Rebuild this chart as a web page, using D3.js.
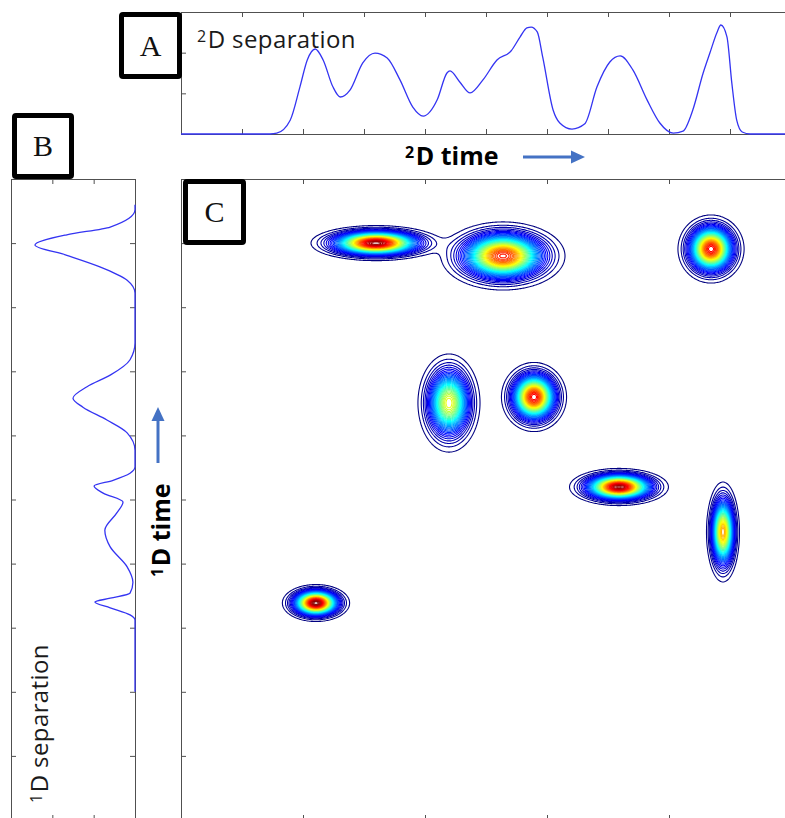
<!DOCTYPE html>
<html>
<head>
<meta charset="utf-8">
<script src="https://cdn.jsdelivr.net/npm/d3@7"></script>
<style>
  body { margin: 0; background: #fff; }
  svg { display: block; }
</style>
</head>
<body>
<svg id="fig"></svg>
<script>
// panel A: 2D separation trace, [2D time, signal]
var traceA = [
  [0, 0], [1.46, 0], [1.57, 0.02], [1.79, 0.34], [1.95, 1.16], [2.07, 1.82], [2.20, 2.09],
  [2.33, 1.82], [2.49, 1.16], [2.61, 0.91], [2.77, 1.08], [2.98, 1.75], [3.18, 1.99],
  [3.38, 1.87], [3.59, 1.33], [3.80, 0.66], [3.97, 0.44], [4.20, 0.84], [4.36, 1.50],
  [4.41, 1.55], [4.57, 1.28], [4.74, 1.01], [4.95, 1.33], [5.18, 1.82], [5.41, 2.04],
  [5.56, 2.39], [5.67, 2.61], [5.74, 2.63], [5.84, 2.51], [5.93, 1.89], [6.10, 0.59],
  [6.21, 0.27], [6.41, 0.12], [6.62, 0.25], [6.82, 1.16], [7.03, 1.77], [7.20, 1.92],
  [7.41, 1.57], [7.64, 0.84], [7.85, 0.27], [8.07, 0.02], [8.23, 0.07], [8.39, 0.59],
  [8.56, 1.50], [8.67, 1.99], [8.79, 2.51], [8.85, 2.68], [8.95, 2.39], [9.03, 1.25],
  [9.11, 0.34], [9.20, 0.05], [9.33, 0], [10, 0]
];

// panel B: 1D separation trace, [1D time, signal]
var traceB = [
  [9.60, 0], [9.52, 0], [9.25, 0.60], [9.13, 1.65], [8.97, 2.42], [8.81, 1.65], [8.63, 0.85],
  [8.42, 0.19], [8.22, 0], [7.44, 0], [7.18, 0.12], [6.94, 0.60], [6.76, 1.16], [6.58, 1.50],
  [6.44, 1.26], [6.24, 0.68], [6.04, 0.19], [5.77, 0], [5.51, 0], [5.41, 0.12], [5.30, 0.53],
  [5.21, 0.99], [5.10, 0.77], [4.96, 0.29], [4.79, 0.44], [4.52, 0.73], [4.26, 0.60],
  [3.95, 0.19], [3.71, 0.05], [3.54, 0.12], [3.46, 0.60], [3.40, 0.97], [3.31, 0.60],
  [3.20, 0.12], [3.12, 0], [2.00, 0]
];

// panel C: peaks, [2D time, 1D time, width 2D, width 1D, height]
var peaks = [
  [2.213, 3.385, 0.197, 0.103, 1.00],
  [3.197, 9.000, 0.382, 0.098, 0.98],
  [4.393, 6.505, 0.194, 0.292, 0.62],
  [5.787, 6.599, 0.194, 0.196, 0.88],
  [5.279, 8.799, 0.371, 0.194, 0.85],
  [7.180, 5.195, 0.291, 0.104, 0.97],
  [8.885, 4.493, 0.101, 0.291, 0.72],
  [8.689, 8.908, 0.197, 0.193, 0.88]
];

var levels = d3.range(0.02, 1.0, 0.02);

var ticks2D = d3.range(0, 11);
var ticks2DMain = [0, 2, 4, 6, 8, 10];
var ticks1D = d3.range(0, 11);
var ticksSignal = [0, 1, 2, 3];

var W = 785, H = 818;
var svg = d3.select("#fig").attr("width", W).attr("height", H);
svg.append("rect").attr("width", W).attr("height", H).attr("fill", "#fff");

var xA = d3.scaleLinear().domain([0, 10]).range([181, 791]);
var yA = d3.scaleLinear().domain([0, 3]).range([134, 12]);
var xC = d3.scaleLinear().domain([0, 10]).range([181, 791]);
var yC = d3.scaleLinear().domain([0, 10]).range([820, 179]);
var xB = d3.scaleLinear().domain([0, 3]).range([135, 11]);

var axisColor = "#505050";
var tick = 5;

function box(axis, tx, ty) {
  var g = svg.append("g")
    .attr("transform", "translate(" + tx + "," + ty + ")")
    .call(axis.tickSizeOuter(0).tickFormat(""));
  g.select(".domain").attr("stroke", axisColor).attr("stroke-width", 1);
  g.selectAll(".tick line").attr("stroke", axisColor).attr("stroke-width", 1);
  return g;
}

// panel A frame
box(d3.axisBottom(xA).tickValues(ticks2D).tickSize(tick), 0, yA.range()[1]);
box(d3.axisTop(xA).tickValues(ticks2D).tickSize(tick), 0, yA.range()[0]);
box(d3.axisRight(yA).tickValues(ticksSignal).tickSize(tick), xA.range()[0], 0);
box(d3.axisLeft(yA).tickValues(ticksSignal).tickSize(tick), xA.range()[1], 0);

// panel B frame
box(d3.axisBottom(xB).tickValues(ticksSignal).tickSize(tick), 0, yC.range()[1]);
box(d3.axisTop(xB).tickValues(ticksSignal).tickSize(tick), 0, yC.range()[0]);
box(d3.axisRight(yC).tickValues(ticks1D).tickSize(tick), xB.range()[1], 0);
box(d3.axisLeft(yC).tickValues(ticks1D).tickSize(tick), xB.range()[0], 0);

// panel C frame
box(d3.axisBottom(xC).tickValues(ticks2DMain).tickSize(tick), 0, yC.range()[1]);
box(d3.axisTop(xC).tickValues(ticks2DMain).tickSize(tick), 0, yC.range()[0]);
box(d3.axisRight(yC).tickValues(ticks1D).tickSize(tick), xC.range()[0], 0);
box(d3.axisLeft(yC).tickValues(ticks1D).tickSize(tick), xC.range()[1], 0);

var traceColor = "#3434f2";

svg.append("path")
  .datum(traceA)
  .attr("fill", "none")
  .attr("stroke", traceColor)
  .attr("stroke-width", 1.3)
  .attr("d", d3.line()
    .x(function(d) { return xA(d[0]); })
    .y(function(d) { return yA(d[1]); })
    .curve(d3.curveMonotoneX));

svg.append("path")
  .datum(traceB)
  .attr("fill", "none")
  .attr("stroke", traceColor)
  .attr("stroke-width", 1.3)
  .attr("d", d3.line()
    .x(function(d) { return xB(d[1]); })
    .y(function(d) { return yC(d[0]); })
    .curve(d3.curveMonotoneY));

// contour field over panel C, one sample per pixel
var x0 = xC.range()[0], y0 = yC.range()[1];
var nx = Math.round(xC.range()[1] - x0), ny = Math.round(yC.range()[0] - y0);
var field = new Float64Array(nx * ny);
for (var j = 0; j < ny; j++) {
  var ty = yC.invert(y0 + j + 0.5);
  for (var i = 0; i < nx; i++) {
    var tx = xC.invert(x0 + i + 0.5), s = 0;
    for (var k = 0; k < peaks.length; k++) {
      var p = peaks[k];
      var dx = (tx - p[0]) / p[2], dy = (ty - p[1]) / p[3];
      s += p[4] * Math.exp(-0.5 * (dx * dx + dy * dy));
    }
    field[j * nx + i] = s;
  }
}

function clamp(v) { return Math.max(0, Math.min(1, v)); }
function jet(t) {
  return d3.rgb(
    255 * clamp(1.5 - Math.abs(4 * t - 3)),
    255 * clamp(1.5 - Math.abs(4 * t - 2)),
    255 * clamp(1.5 - Math.abs(4 * t - 1)));
}
var lmin = d3.min(levels), lmax = d3.max(levels);

var contours = d3.contours().size([nx, ny]).thresholds(levels)(field);
var geo = d3.geoPath(d3.geoIdentity().translate([x0, y0]));

svg.append("g")
  .selectAll("path")
  .data(contours)
  .enter()
  .append("path")
  .attr("d", geo)
  .attr("fill", "none")
  .attr("stroke", function(d) { return jet((d.value - lmin) / (lmax - lmin)); })
  .attr("stroke-width", 1.1);

// panel letters
function panelLabel(letter, bx, by, bw, bh) {
  svg.append("rect")
    .attr("x", bx).attr("y", by).attr("width", bw).attr("height", bh)
    .attr("fill", "#fff").attr("stroke", "#000").attr("stroke-width", 5)
    .attr("rx", 1.5);
  svg.append("text")
    .attr("x", bx + bw / 2).attr("y", by + bh / 2 + 10)
    .attr("text-anchor", "middle")
    .attr("font-family", "Liberation Serif, serif")
    .attr("font-size", 30)
    .attr("fill", "#111")
    .text(letter);
}
panelLabel("A", 121.5, 14.5, 58, 62);
panelLabel("B", 14.5, 115.5, 57, 61);
panelLabel("C", 185.5, 181.5, 58, 61);

// axis titles
function supText(g, sup, main, size, supSize, rise, weight, spacing) {
  var t = g.append("text")
    .attr("font-family", "Open Sans, sans-serif")
    .attr("font-size", size)
    .attr("font-weight", weight)
    .attr("fill", weight === "bold" ? "#000" : "#1a1a1a");
  t.append("tspan").attr("font-size", supSize).attr("dy", -rise).text(sup);
  t.append("tspan").attr("dy", rise).attr("dx", 1.5)
    .attr("letter-spacing", spacing).text(main);
  return t;
}

supText(svg.append("g").attr("transform", "translate(197,48)"), "2", "D separation", 24, 16, 6, "normal", 0.4);
supText(svg.append("g").attr("transform", "translate(48,803) rotate(-90)"), "1", "D separation", 24, 16, 6, "normal", 0.4);
supText(svg.append("g").attr("transform", "translate(405,165)"), "2", "D time", 25, 16, 7.5, "bold", 0);
supText(svg.append("g").attr("transform", "translate(170,577) rotate(-90)"), "1", "D time", 25, 16, 7.5, "bold", 0);

// direction arrows
var arrowColor = "#4472c4";
svg.append("line").attr("x1", 523).attr("y1", 157).attr("x2", 574).attr("y2", 157)
  .attr("stroke", arrowColor).attr("stroke-width", 3);
svg.append("polygon").attr("points", "571,150.5 585,157 571,163.5").attr("fill", arrowColor);
svg.append("line").attr("x1", 158).attr("y1", 463).attr("x2", 158).attr("y2", 418)
  .attr("stroke", arrowColor).attr("stroke-width", 3);
svg.append("polygon").attr("points", "151.5,421 158,407 164.5,421").attr("fill", arrowColor);
</script>
</body>
</html>
